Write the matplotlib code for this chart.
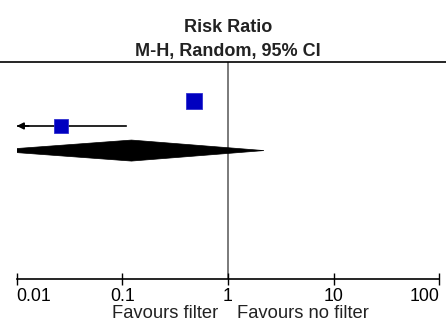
import matplotlib
matplotlib.use("Agg")
import matplotlib.pyplot as plt
from matplotlib.lines import Line2D
from matplotlib.patches import Polygon
from matplotlib.transforms import blended_transform_factory
import numpy as np

plt.rcParams['font.family'] = ['Liberation Sans', 'DejaVu Sans']

# Data (risk ratios on log scale)
study_rows = [1, 2]
study_est = [0.48, 0.026]
study_lo = [None, 0.005]      # study 2 lower CI beyond axis (arrow)
study_hi = [None, 0.108]
study_size = [11.5, 10.4]     # marker sizes (weights)
total_row = 3
total_est = 0.122
total_lo = 0.0055
total_hi = 2.19
tick_vals = [0.01, 0.1, 1, 10, 100]
tick_labels = ["0.01", "0.1", "1", "10", "100"]

W, H = 446, 322
fig = plt.figure(figsize=(W / 100, H / 100), dpi=100)
ax = fig.add_axes([16.7 / W, (H - 279) / H, (439.3 - 16.7) / W, (279 - 62) / H])
ax.set_xscale('log')
ax.set_xlim(0.01, 100)
ax.set_ylim(8.22, -0.6)

for s in ['top', 'left', 'right']:
    ax.spines[s].set_visible(False)
ax.spines['bottom'].set_linewidth(1.2)
ax.spines['bottom'].set_color('black')
ax.set_yticks([])
ax.set_xticks(tick_vals)
ax.set_xticklabels(tick_labels)
ax.xaxis.set_minor_locator(matplotlib.ticker.NullLocator())
ax.tick_params(axis='x', direction='inout', length=8.5, width=1.0, pad=2.5,
               labelsize=12.8, colors='black')
labs = ax.get_xticklabels()
labs[0].set_ha('left')
labs[-1].set_ha('right')

# line of no effect
ax.axvline(1, color='#707070', lw=1.3, zorder=1)

# studies
blue = '#0000c0'
for r, e, lo, hi, ms in zip(study_rows, study_est, study_lo, study_hi, study_size):
    if lo is not None:
        left = max(lo, 0.01)
        ax.plot([left, hi], [r, r], color='black', lw=1.2, zorder=2)
        if lo < 0.01:
            ax.annotate('', xy=(0.01, r), xytext=(0.013, r),
                        arrowprops=dict(arrowstyle='-|>', color='black', lw=1.2,
                                        mutation_scale=10, shrinkA=0, shrinkB=0),
                        zorder=2)
    ax.plot([e], [r], marker='s', ms=ms, color=blue, mec='#3030d0', mew=0.6, zorder=3)

# diamond
h = 10.5 / 24.6
diamond = Polygon([(total_lo, total_row), (total_est, total_row - h),
                   (total_hi, total_row), (total_est, total_row + h)],
                  closed=True, facecolor='black', edgecolor='black', lw=0.5, zorder=4)
ax.add_patch(diamond)

# top rule across full width
fig.add_artist(Line2D([0, 1], [1 - 62 / H, 1 - 62 / H], transform=fig.transFigure,
                      color='black', lw=1.2))

# headings
tr = blended_transform_factory(ax.transData, fig.transFigure)
fig.text(1, 1 - 31.5 / H, "Risk Ratio", transform=tr, ha='center', va='baseline',
         fontsize=13, fontweight='bold', color='#222222')
fig.text(1, 1 - 56 / H, "M-H, Random, 95% CI", transform=tr, ha='center', va='baseline',
         fontsize=13, fontweight='bold', color='#222222')

# favours labels
fig.text(218 / W, 1 - 318.2 / H, "Favours filter", ha='right', va='baseline',
         fontsize=13.2, color='#222222')
fig.text(237 / W, 1 - 318.2 / H, "Favours no filter", ha='left', va='baseline',
         fontsize=13.2, color='#222222')

fig.savefig('out.png', dpi=100)
